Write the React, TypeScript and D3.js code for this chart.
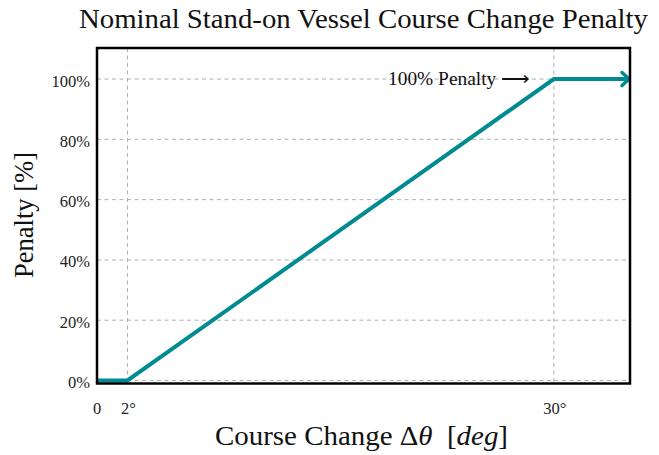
import React from "react";
import * as d3 from "d3";

const courseChange = [0, 2, 30, 35];
const penalty = [0, 0, 100, 100];
const yTicks = [0, 20, 40, 60, 80, 100];
const yTickLabels = ["0%", "20%", "40%", "60%", "80%", "100%"];
const xTicks = [0, 2, 30];
const xTickLabels = ["0", "2°", "30°"];
const xGrid = [2, 30];
const titleText = "Nominal Stand-on Vessel Course Change Penalty";
const annotationText = "100% Penalty ";
const annotationArrow = "⟶";

const W = 659;
const H = 455;
const left = 97;
const right = 630;
const top = 48;
const bottom = 383.5;
const FONT = "'Liberation Serif', 'Times New Roman', serif";
const TEAL = "#008a92";

export default function App() {
  const x = d3.scaleLinear().domain([0, 35]).range([left, right]);
  const y = d3.scaleLinear().domain([-1, 110.3]).range([bottom, top]);
  const pts = courseChange.map((c, i) => [c, penalty[i]] as [number, number]);
  const line = d3
    .line<[number, number]>()
    .x((d) => x(d[0]))
    .y((d) => y(d[1]));
  const endX = x(courseChange[courseChange.length - 1]);
  const endY = y(penalty[penalty.length - 1]);
  const lineEndX = endX - 1.5;

  return (
    <svg
      width={W}
      height={H}
      style={{ position: "absolute", left: 0, top: 0, background: "#fff" }}
      fontFamily={FONT}
    >
      <rect x={0} y={0} width={W} height={H} fill="#fff" />
      <text
        x={(79 + 648) / 2}
        y={28.3}
        textAnchor="middle"
        fontSize={27.5}
        textLength={569}
        lengthAdjust="spacingAndGlyphs"
        fill="#111"
      >
        {titleText}
      </text>
      {yTicks.map((t) => (
        <line
          key={"gy" + t}
          x1={left}
          x2={right}
          y1={y(t)}
          y2={y(t)}
          stroke="#b0b0b0"
          strokeWidth={1}
          strokeDasharray="4,3.5"
        />
      ))}
      {xGrid.map((t) => (
        <line
          key={"gx" + t}
          x1={x(t)}
          x2={x(t)}
          y1={top}
          y2={bottom}
          stroke="#b0b0b0"
          strokeWidth={1}
          strokeDasharray="4,3.5"
        />
      ))}
      <text
        x={530}
        y={85}
        textAnchor="end"
        fontSize={19.5}
        textLength={142}
        lengthAdjust="spacingAndGlyphs"
        fill="#111"
        xmlSpace="preserve"
      >
        <tspan>{annotationText}</tspan>
        <tspan>{annotationArrow}</tspan>
      </text>
      <path
        d={line(pts.map((p, i) => (i === pts.length - 1 ? [x.invert(lineEndX), p[1]] : p))) || ""}
        fill="none"
        stroke={TEAL}
        strokeWidth={4}
        strokeLinejoin="miter"
      />
      <path
        d={`M${endX - 8},${endY - 6.5}L${endX - 1},${endY}L${endX - 8},${endY + 6.5}`}
        fill="none"
        stroke={TEAL}
        strokeWidth={3.5}
        strokeLinecap="round"
        strokeLinejoin="round"
      />
      <rect
        x={left}
        y={top}
        width={right - left}
        height={bottom - top}
        fill="none"
        stroke="#000"
        strokeWidth={2.5}
      />
      {yTicks.map((t, i) => (
        <text
          key={"yl" + t}
          x={90}
          y={y(t) + 7.5}
          textAnchor="end"
          fontSize={16.5}
          fill="#222"
        >
          {yTickLabels[i]}
        </text>
      ))}
      {xTicks.map((t, i) => (
        <text
          key={"xl" + t}
          x={x(t) + (i === 0 ? 0 : 1)}
          y={414}
          textAnchor="middle"
          fontSize={16.5}
          fill="#222"
        >
          {xTickLabels[i]}
        </text>
      ))}
      <text
        x={(215 + 508) / 2}
        y={445}
        textAnchor="middle"
        fontSize={27}
        textLength={293}
        lengthAdjust="spacingAndGlyphs"
        fill="#111"
        xmlSpace="preserve"
      >
        <tspan>Course Change Δ</tspan>
        <tspan fontStyle="italic">θ</tspan>
        <tspan>{"  ["}</tspan>
        <tspan fontStyle="italic">deg</tspan>
        <tspan>]</tspan>
      </text>
      <text
        transform={`translate(33,215) rotate(-90)`}
        textAnchor="middle"
        fontSize={28}
        textLength={126}
        lengthAdjust="spacingAndGlyphs"
        fill="#111"
      >
        Penalty [%]
      </text>
    </svg>
  );
}
